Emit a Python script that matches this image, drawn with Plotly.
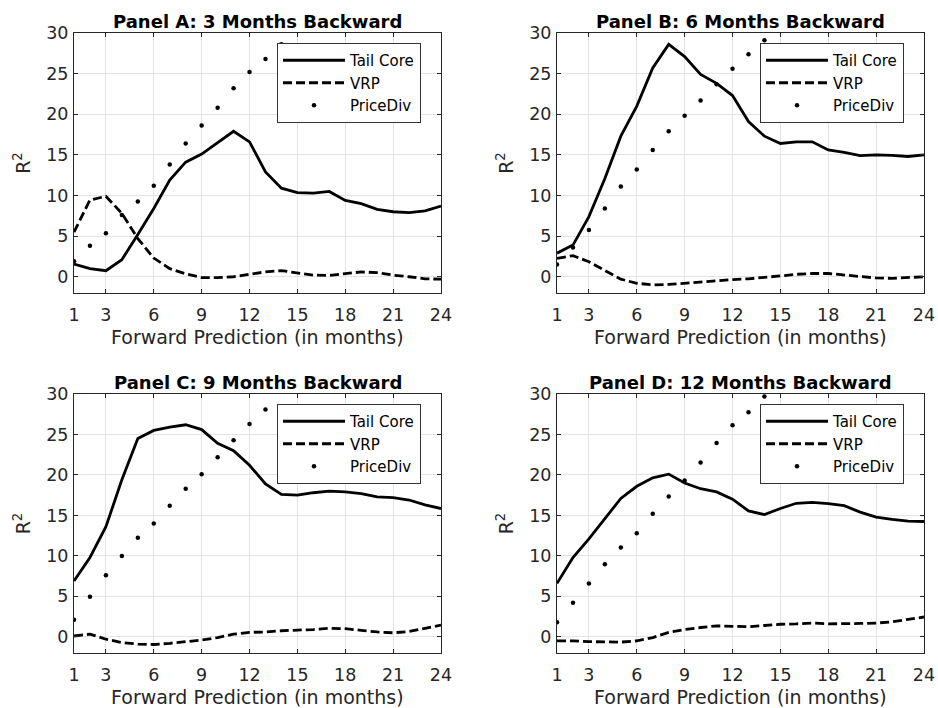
import plotly.graph_objects as go

# Forward prediction horizon (months)
months = list(range(1, 25))

# ---- Panel A: 3 months backward ----
tail_a = [1.56, 1.0, 0.74, 2.1, 5.2, 8.4, 11.9, 14.1, 15.1, 16.5, 17.9, 16.6,
          12.9, 10.9, 10.35, 10.3, 10.5, 9.4, 9.0, 8.3, 8.0, 7.9, 8.1, 8.7]
vrp_a = [5.5, 9.45, 9.9, 7.8, 4.7, 2.3, 1.0, 0.35, -0.1, -0.1, 0.0, 0.3,
         0.6, 0.75, 0.5, 0.2, 0.15, 0.4, 0.6, 0.5, 0.2, 0.0, -0.25, -0.3]
pdiv_a = [1.9, 3.8, 5.35, 7.6, 9.25, 11.2, 13.8, 16.4, 18.6, 20.8, 23.2, 25.2,
          26.8, 28.6] + [None] * 10

# ---- Panel B: 6 months backward ----
tail_b = [2.9, 3.9, 7.4, 12.1, 17.3, 21.0, 25.7, 28.6, 27.1, 24.9, 23.8, 22.3,
          19.1, 17.3, 16.4, 16.6, 16.6, 15.6, 15.3, 14.9, 15.0, 14.95, 14.8, 15.0]
vrp_b = [2.25, 2.6, 1.85, 0.75, -0.3, -0.8, -1.0, -0.95, -0.8, -0.6, -0.5, -0.35,
         -0.25, -0.1, 0.1, 0.3, 0.4, 0.4, 0.2, 0.0, -0.15, -0.2, -0.1, 0.0]
pdiv_b = [1.5, 3.6, 5.75, 8.4, 11.1, 13.2, 15.6, 17.9, 19.8, 21.7, 23.7, 25.6,
          27.4, 29.1] + [None] * 10

# ---- Panel C: 9 months backward ----
tail_c = [6.9, 9.8, 13.6, 19.4, 24.5, 25.5, 25.9, 26.2, 25.6, 23.9, 23.0, 21.2,
          18.9, 17.6, 17.5, 17.8, 18.0, 17.9, 17.7, 17.3, 17.2, 16.9, 16.3, 15.85]
vrp_c = [0.1, 0.33, -0.3, -0.7, -0.9, -0.95, -0.8, -0.6, -0.4, -0.1, 0.33, 0.55,
         0.6, 0.75, 0.8, 0.9, 1.05, 1.0, 0.8, 0.6, 0.5, 0.65, 1.05, 1.45]
pdiv_c = [2.1, 4.95, 7.6, 10.0, 12.25, 14.0, 16.2, 18.3, 20.1, 22.2, 24.3, 26.3,
          28.1] + [None] * 11

# ---- Panel D: 12 months backward ----
tail_d = [6.6, 9.8, 12.1, 14.6, 17.1, 18.6, 19.65, 20.1, 19.0, 18.3, 17.9, 17.0,
          15.55, 15.1, 15.85, 16.5, 16.6, 16.45, 16.2, 15.4, 14.8, 14.5, 14.3, 14.25]
vrp_d = [-0.5, -0.5, -0.6, -0.65, -0.65, -0.5, -0.1, 0.55, 0.9, 1.15, 1.35, 1.3,
         1.25, 1.4, 1.55, 1.6, 1.7, 1.6, 1.6, 1.65, 1.7, 1.85, 2.15, 2.45]
pdiv_d = [1.8, 4.2, 6.6, 8.95, 11.05, 12.8, 15.2, 17.35, 19.3, 21.55, 23.95, 26.15,
          27.75, 29.7] + [None] * 10

panel_titles = ["Panel A: 3 Months Backward", "Panel B: 6 Months Backward",
                "Panel C: 9 Months Backward", "Panel D: 12 Months Backward"]
x_title = "Forward Prediction (in months)"
x_ticks = [1, 3, 6, 9, 12, 15, 18, 21, 24]
y_ticks = [0, 5, 10, 15, 20, 25, 30]

W, H = 938, 708
FONT = "DejaVu Sans"
AX_COLOR = "#262626"

# pixel layout of each axes box: (left, right, top, bottom)
boxes = [(74, 441, 33, 293), (557, 924, 33, 293),
         (74, 441, 394, 653), (557, 924, 394, 653)]

panels = [(tail_a, vrp_a, pdiv_a), (tail_b, vrp_b, pdiv_b),
          (tail_c, vrp_c, pdiv_c), (tail_d, vrp_d, pdiv_d)]

fig = go.Figure()
layout = dict(width=W, height=H, autosize=False, margin=dict(l=0, r=0, t=0, b=0, pad=0),
              paper_bgcolor="white", plot_bgcolor="white",
              font=dict(family=FONT, color=AX_COLOR), annotations=[])

for i, ((tail, vrp, pdiv), (l, r, t, b)) in enumerate(zip(panels, boxes)):
    n = i + 1
    xa = "x" if n == 1 else f"x{n}"
    ya = "y" if n == 1 else f"y{n}"
    lg = "legend" if n == 1 else f"legend{n}"
    fig.add_trace(go.Scatter(x=months, y=tail, mode="lines", name="Tail Core",
                             line=dict(color="black", width=2.8),
                             xaxis=xa, yaxis=ya, legend=lg))
    fig.add_trace(go.Scatter(x=months, y=vrp, mode="lines", name="VRP",
                             line=dict(color="black", width=2.8, dash="9px,4px"),
                             xaxis=xa, yaxis=ya, legend=lg))
    fig.add_trace(go.Scatter(x=months, y=pdiv, mode="markers", name="PriceDiv",
                             marker=dict(color="black", size=4.5),
                             xaxis=xa, yaxis=ya, legend=lg))

    axis_common = dict(showline=True, linecolor=AX_COLOR, linewidth=1, mirror="ticks",
                       ticks="inside", ticklen=4, tickcolor=AX_COLOR, automargin=False,
                       showgrid=True, gridcolor="#e3e3e3", gridwidth=1,
                       zeroline=False, tickfont=dict(size=17.5, family=FONT, color=AX_COLOR))
    layout["xaxis" if n == 1 else f"xaxis{n}"] = dict(
        axis_common, domain=[l / W, r / W], range=[1, 24], tickvals=x_ticks,
        anchor=ya, ticklabelstandoff=6)
    layout["yaxis" if n == 1 else f"yaxis{n}"] = dict(
        axis_common, domain=[1 - b / H, 1 - t / H], range=[-2, 30], tickvals=y_ticks,
        anchor=xa, ticklabelstandoff=1,
        title=dict(text="R<sup>2</sup>", font=dict(size=19, family=FONT, color=AX_COLOR),
                   standoff=10))
    layout[lg] = dict(x=(l + 203) / W, y=1 - (t + 10) / H, xanchor="left", yanchor="top",
                      xref="paper", yref="paper", bgcolor="white", bordercolor="#333333",
                      borderwidth=1, itemwidth=62, font=dict(size=15, family=FONT, color="black"),
                      tracegroupgap=0)
    # panel title above the axes box
    layout["annotations"].append(dict(
        text=f"<b>{panel_titles[i]}</b>", x=(l + r) / 2 / W, y=1 - (t - 12) / H,
        xref="paper", yref="paper", xanchor="center", yanchor="middle", showarrow=False,
        font=dict(size=18, family=FONT, color="black")))
    # x-axis title below the tick labels
    layout["annotations"].append(dict(
        text=x_title, x=(l + r) / 2 / W, y=1 - (b + 44) / H,
        xref="paper", yref="paper", xanchor="center", yanchor="middle", showarrow=False,
        font=dict(size=19, family=FONT, color=AX_COLOR)))

fig.update_layout(**layout)
fig.write_html("out.html",
               post_script="document.body.style.margin='0px';"
                           "document.body.style.overflow='hidden';")
